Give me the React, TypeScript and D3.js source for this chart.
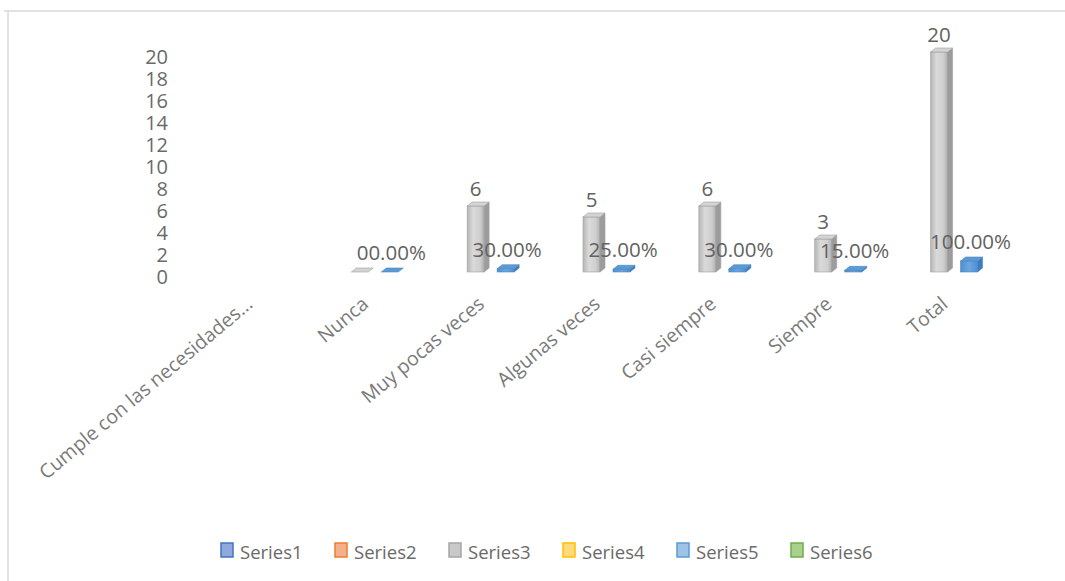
import React from "react";
import * as d3 from "d3";

const categories = [
  "Cumple con las necesidades...",
  "Nunca",
  "Muy pocas veces",
  "Algunas veces",
  "Casi siempre",
  "Siempre",
  "Total",
];
const seriesNames = ["Series1", "Series2", "Series3", "Series4", "Series5", "Series6"];
const series3Values: (number | null)[] = [null, 0, 6, 5, 6, 3, 20];
const series5Values: (number | null)[] = [null, 0, 0.3, 0.25, 0.3, 0.15, 1];
const series5Labels: (string | null)[] = [null, "00.00%", "30.00%", "25.00%", "30.00%", "15.00%", "100.00%"];
const yTicks = [0, 2, 4, 6, 8, 10, 12, 14, 16, 18, 20];

const legendStroke = ["#4472c4", "#ed7d31", "#a5a5a5", "#ffc000", "#5b9bd5", "#70ad47"];
const legendFill = ["#8fa9dc", "#f4b08a", "#c9c9c9", "#ffd97a", "#9dc3e6", "#a9d18e"];

const W = 1065;
const H = 581;
const FONT = "'Open Sans', 'Noto Sans', sans-serif";

export default function App() {
  const x0 = d3.scaleBand<string>().domain(categories).range([195, 1006]).padding(0);
  const bw = x0.bandwidth();
  const x1 = d3
    .scaleBand<string>()
    .domain(seriesNames)
    .range([0, bw])
    .paddingInner(0)
    .paddingOuter(0.863);
  const y = d3.scaleLinear().domain([0, 20]).range([272, 52]);

  const frontW = 17;
  const dx = 5;
  const dy = 4;

  const bar = (
    key: string,
    cx: number,
    v: number,
    front: string,
    side: string,
    top: string,
    stroke: string
  ) => {
    const xl = cx - 10;
    const yt = y(v);
    const yb = y(0);
    return (
      <g key={key}>
        {v > 0 && (
          <rect x={xl} y={yt} width={frontW} height={yb - yt} fill={front} stroke={stroke} strokeWidth={0.6} />
        )}
        {v > 0 && (
          <path
            d={`M${xl + frontW},${yt} L${xl + frontW + dx},${yt - dy} L${xl + frontW + dx},${yb - dy} L${xl + frontW},${yb} Z`}
            fill={side}
            stroke={stroke}
            strokeWidth={0.6}
          />
        )}
        <path
          d={`M${xl},${yt} L${xl + dx},${yt - dy} L${xl + frontW + dx},${yt - dy} L${xl + frontW},${yt} Z`}
          fill={top}
          stroke={stroke}
          strokeWidth={0.6}
        />
      </g>
    );
  };

  return (
    <div style={{ position: "absolute", left: 0, top: 0 }}>
      <svg width={W} height={H} style={{ display: "block", background: "#fff" }}>
        <defs>
          <linearGradient id="grayFront" x1="0" x2="1" y1="0" y2="0">
            <stop offset="0" stopColor="#b5b5b5" />
            <stop offset="0.35" stopColor="#dadada" />
            <stop offset="0.75" stopColor="#cfcfcf" />
            <stop offset="1" stopColor="#b0b0b0" />
          </linearGradient>
          <linearGradient id="blueFront" x1="0" x2="1" y1="0" y2="0">
            <stop offset="0" stopColor="#4f8fd0" />
            <stop offset="0.5" stopColor="#6ea6df" />
            <stop offset="1" stopColor="#4f8fd0" />
          </linearGradient>
        </defs>
        {/* frame */}
        <line x1={4} x2={W} y1={11} y2={11} stroke="#d9d9d9" strokeWidth={1.5} />
        <line x1={8} x2={8} y1={11} y2={H} stroke="#d9d9d9" strokeWidth={1.5} />

        {/* y tick labels */}
        {yTicks.map((t) => (
          <text
            key={t}
            x={168}
            y={y(t) + 4.5}
            textAnchor="end"
            dominantBaseline="central"
            fontFamily={FONT}
            fontSize={20}
            fill="#6a6a6a"
          >
            {t}
          </text>
        ))}

        {/* bars */}
        {categories.map((c, i) => {
          const base = x0(c)!;
          const out: React.ReactNode[] = [];
          const v3 = series3Values[i];
          const v5 = series5Values[i];
          if (v3 !== null) {
            const cx = base + x1("Series3")! + x1.bandwidth() / 2;
            out.push(bar("s3" + i, cx, v3, "url(#grayFront)", "#9c9c9c", "#d4d4d4", "#a0a0a0"));
          }
          if (v5 !== null) {
            const cx = base + x1("Series5")! + x1.bandwidth() / 2;
            out.push(bar("s5" + i, cx, v5, "url(#blueFront)", "#3f7cbc", "#5b9bd5", "#4a86c5"));
          }
          return <g key={c}>{out}</g>;
        })}

        {/* data labels */}
        {categories.map((c, i) => {
          const base = x0(c)!;
          const v3 = series3Values[i];
          const v5 = series5Values[i];
          const l5 = series5Labels[i];
          return (
            <g key={"lab" + c} fontFamily={FONT} fontSize={20.5} fill="#626262">
              {v3 !== null && v3 > 0 && (
                <text
                  x={base + x1("Series3")! + x1.bandwidth() / 2 - 1.5}
                  y={y(v3) - 18}
                  textAnchor="middle"
                  dominantBaseline="central"
                >
                  {v3}
                </text>
              )}
              {v5 !== null && l5 && (
                <text
                  x={base + x1("Series5")! + x1.bandwidth() / 2}
                  y={y(v5) - 20}
                  textAnchor="middle"
                  dominantBaseline="central"
                >
                  {l5}
                </text>
              )}
            </g>
          );
        })}

        {/* category labels */}
        {categories.map((c) => {
          const cx = x0(c)! + bw / 2;
          return (
            <text
              key={"cat" + c}
              transform={`translate(${cx + 1},${306}) rotate(-40)`}
              textAnchor="end"
              fontFamily={FONT}
              fontSize={19.5}
              fill="#7a7a7a"
            >
              {c}
            </text>
          );
        })}

        {/* legend */}
        {seriesNames.map((s, i) => {
          const lx = 221 + i * 114;
          return (
            <g key={s}>
              <rect x={lx} y={543} width={12} height={14} fill={legendFill[i]} stroke={legendStroke[i]} strokeWidth={1.5} />
              <text x={lx + 19} y={551} dominantBaseline="central" fontFamily={FONT} fontSize={18.5} fill="#6a6a6a">
                {s}
              </text>
            </g>
          );
        })}
      </svg>
    </div>
  );
}
